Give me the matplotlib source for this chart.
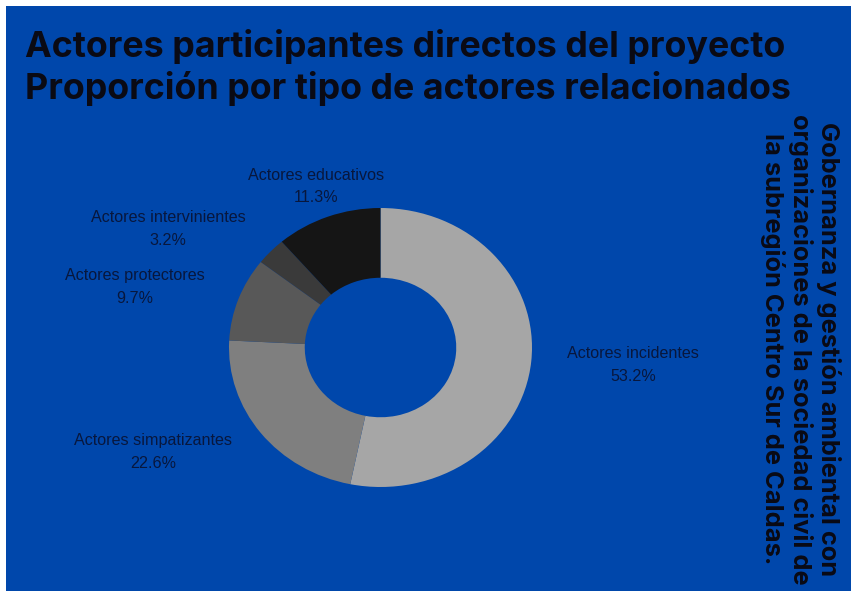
import matplotlib
matplotlib.use("Agg")
import matplotlib.pyplot as plt
from matplotlib.patches import Rectangle

categories = ["Actores incidentes", "Actores simpatizantes", "Actores protectores",
              "Actores intervinientes", "Actores educativos"]
values = [53.2, 22.6, 9.7, 3.2, 11.3]
colors = ["#a6a6a6", "#7f7f7f", "#585858", "#3a3a3a", "#151515"]
title_lines = ["Actores participantes directos del proyecto",
               "Proporción por tipo de actores relacionados"]
side_text = ("Gobernanza y gestión ambiental con\n"
             "organizaciones de la sociedad civil de\n"
             "la subregión Centro Sur de Caldas.")

# label positions in figure pixels (x, y from top)
label_pos = [(633, 365), (153, 452), (135, 287), (168, 229), (316, 186.5)]

W, H = 856, 595
fig = plt.figure(figsize=(W / 100, H / 100), dpi=100)
fig.patch.set_facecolor("white")
fig.add_artist(Rectangle((6 / W, 4 / H), (W - 11) / W, (H - 10) / H,
                         transform=fig.transFigure, facecolor="#0047ab",
                         edgecolor="none", zorder=0))

# donut axes: bounding box in pixels
x0, x1, y0, y1 = 229, 532, 208, 487
ax = fig.add_axes([x0 / W, 1 - y1 / H, (x1 - x0) / W, (y1 - y0) / H])
ax.patch.set_alpha(0)
ax.pie(values, colors=colors, startangle=90, counterclock=False, radius=1,
       wedgeprops=dict(width=0.5, edgecolor="none"))
ax.set_aspect("auto")
ax.set_xlim(-1, 1)
ax.set_ylim(-1, 1)
ax.axis("off")

lab_col = "#08173d"
for cat, v, (px, py) in zip(categories, values, label_pos):
    fig.text(px / W, 1 - py / H, f"{cat}\n{v:.1f}%", ha="center", va="center",
             fontsize=11.6, family="Liberation Sans", color=lab_col,
             linespacing=1.6)

fig.text(25 / W, 1 - 46 / H, title_lines[0], ha="left", va="center",
         fontsize=25.8, family="Inter", fontweight="bold", color="#0a0a14")
fig.text(25 / W, 1 - 89 / H, title_lines[1], ha="left", va="center",
         fontsize=25.8, family="Inter", fontweight="bold", color="#0a0a14")

fig.text(800 / W, 1 - 349 / H, side_text, ha="center", va="center",
         rotation=-90, multialignment="center", fontsize=18.3,
         family="Inter", fontweight="bold", color="#0a0a14", linespacing=1.15)

fig.savefig("out.png", dpi=100, facecolor=fig.get_facecolor())
